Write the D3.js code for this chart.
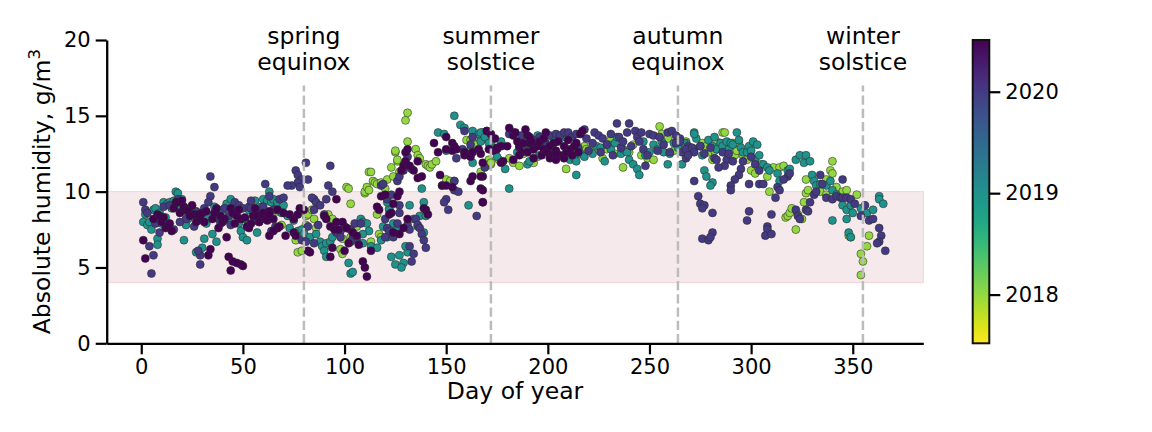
<!DOCTYPE html>
<html><head><meta charset="utf-8">
<script src="https://cdn.jsdelivr.net/npm/d3@7"></script>
<style>body{margin:0;background:#fff}svg{display:block}text{font-family:"DejaVu Sans",sans-serif;fill:#000}</style>
</head><body>
<svg id="chart" width="1152" height="432"></svg>
<script>
// ---- data: [day of year, absolute humidity g/m3] per year ----
const pts2018 = [[67,8.7],[69,7.8],[76,6.8],[77,6.0],[79,6.1],[80,7.3],[81,7.8],[81,8.4],[82,8.5],[84,8.8],[85,8.2],[86,7.6],[89,6.5],[90,6.3],[92,8.5],[94,8.2],[98,6.2],[99,5.9],[99,6.9],[101,7.6],[101,10.3],[102,10.2],[103,9.2],[103,7.0],[104,6.8],[106,7.7],[108,8.1],[110,9.9],[110,10.0],[111,10.3],[112,10.1],[112,11.3],[113,11.3],[113,6.7],[114,10.7],[115,10.6],[116,10.5],[116,8.5],[117,7.2],[118,7.0],[118,10.6],[120,10.2],[121,10.8],[122,8.9],[123,11.6],[124,11.0],[125,12.6],[125,12.7],[126,12.0],[126,12.1],[127,11.3],[130,14.7],[131,15.2],[131,13.3],[135,12.8],[136,12.4],[137,12.2],[140,11.8],[141,11.7],[142,11.6],[143,11.8],[145,12.0],[148,10.4],[150,10.8],[152,10.7],[154,10.7],[160,13.4],[162,13.4],[163,13.3],[165,13.1],[167,11.3],[167,13.4],[169,13.5],[170,11.7],[171,12.1],[172,11.8],[172,11.9],
[176,12.1],[181,12.2],[183,11.9],[186,11.7],[188,12.5],[191,12.6],[193,11.9],[195,12.3],[200,12.8],[205,12.3],[209,11.5],[212,12.6],[218,13.0],[219,12.8],[221,12.7],[224,12.8],[227,12.2],[229,12.8],[231,13.4],[233,12.5],[237,11.6],[240,12.6],[242,13.1],[246,12.4],[249,12.2],[252,12.1],[255,14.3],[256,13.8],[259,13.5],[262,12.7],[265,13.0],[268,13.3],
[276,13.2],[278,13.0],[279,12.6],[281,12.1],[282,12.7],[283,13.3],[285,13.2],[286,13.9],[287,13.9],[289,13.0],[290,12.2],[291,13.2],[292,12.4],[293,12.7],[294,13.2],[296,12.4],[298,12.1],[300,11.4],[302,11.2],[305,11.8],[308,11.0],[309,10.0],[311,11.6],[314,11.6],[316,11.7],[317,8.3],[318,8.4],[319,8.6],[320,8.9],[322,7.5],[323,8.5],[325,8.2],[326,9.3],[327,9.9],[327,10.8],[328,10.1],[334,10.0],[337,10.8],[337,9.8],[339,11.4],[340,12.0],[340,11.2],[342,10.3],[345,10.0],[347,10.1],[348,7.1],[349,7.0],[352,9.8],[354,5.9],[354,4.5],[355,5.4],[357,6.4],[358,7.1]];
const pts2019 = [[1,8.0],[2,8.5],[3,7.8],[4,8.0],[5,7.5],[6,8.8],[7,8.9],[8,6.9],[8,6.5],[9,8.6],[10,7.9],[11,9.3],[12,8.3],[13,9.2],[14,9.3],[15,8.9],[16,9.4],[17,10.0],[18,9.9],[19,9.0],[20,9.5],[21,6.8],[22,7.8],[23,8.2],[24,8.9],[25,8.5],[27,6.0],[28,8.1],[30,6.3],[31,6.9],[32,7.9],[33,8.4],[35,7.2],[36,9.0],[37,6.7],[38,8.5],[40,8.8],[42,9.2],[43,8.1],[44,9.5],[46,8.5],[47,8.9],[48,7.9],[49,7.4],[50,7.0],[51,8.2],[52,6.8],[53,8.8],[55,8.5],[56,9.4],[57,7.3],[58,8.0],[59,9.0],[60,9.5],[62,9.4],[63,10.0],[64,9.3],[67,9.1],
[65,9.5],[67,9.3],[70,9.1],[69,8.6],[72,8.4],[75,8.1],[73,7.6],[77,7.4],[79,7.5],[80,7.2],[83,7.0],[86,7.2],[88,6.7],[89,6.4],[91,6.6],[93,6.7],[94,7.0],[90,6.1],[91,5.7],[102,5.3],[103,4.6],[104,4.7],[108,8.2],[109,8.0],[111,7.9],[112,7.4],[109,7.2],[109,6.6],[113,6.4],[116,6.3],[118,6.8],[119,7.7],[121,7.0],[123,5.7],[125,5.2],[127,5.8],[129,5.3],[128,5.0],[131,6.0],[130,6.4],[125,7.5],[124,7.9],[122,8.8],[121,9.3],[138,10.2],[139,9.3],[132,9.1],[134,8.2],[136,7.7],[137,8.4],[140,8.4],[139,7.3],
[146,13.9],[149,13.8],[154,15.0],[157,14.4],[159,14.2],[163,14.0],[166,13.8],[168,13.9],[171,13.6],[172,13.2],[167,13.3],[162,12.8],[163,11.9],[161,9.1],[150,12.7],[154,12.9],
[167,13.9],[169,13.6],[171,13.2],[175,12.3],[177,13.3],[179,11.5],[181,10.2],[185,12.6],[190,11.8],[191,12.0],[195,13.7],[196,12.4],[198,12.9],[203,13.4],[206,13.5],[209,13.6],[211,12.1],[213,12.2],[214,12.0],[216,12.5],[214,11.1],[218,12.3],[222,12.5],[224,13.0],[226,12.9],[228,12.0],[230,13.1],[231,12.8],[233,13.2],[234,13.6],[236,12.5],[237,12.8],[239,12.6],[240,12.1],[242,11.8],[244,11.5],[245,11.1],[247,13.3],[248,12.4],[250,12.6],[252,13.1],[254,12.8],[256,13.3],[257,12.6],[259,11.8],[260,12.5],[262,13.2],[264,12.9],[266,11.8],[268,13.2],[270,12.9],[272,13.9],[273,13.5],
[272,13.8],[267,13.2],[270,12.8],[275,13.0],[276,12.4],[279,13.4],[281,13.0],[282,13.6],[283,12.8],[285,13.2],[286,13.0],[288,13.3],[289,12.8],[290,13.2],[291,13.1],[293,13.9],[294,13.4],[295,12.9],[296,12.6],[298,12.6],[299,13.0],[300,12.7],[301,13.3],[303,13.1],[302,12.1],[304,12.4],[306,11.8],[308,11.6],[309,11.4],[313,11.2],[314,10.7],[318,11.4],[319,11.5],[322,12.1],[324,12.4],[326,11.9],[327,12.4],[329,12.0],[330,11.1],[331,10.7],[332,10.4],[334,10.5],[337,10.4],[339,10.7],[340,10.1],[342,9.8],[345,9.1],[347,8.8],[349,9.1],[350,8.6],[354,8.9],[357,8.6],[360,8.8],[363,9.7],[363,9.5],[365,9.2],[340,8.1],[347,8.2],[348,7.3],[349,7.0],[277,11.4],[278,11.0],[281,10.6],[280,10.4]];
const pts2020 = [[1,9.3],[2,8.8],[3,8.6],[4,6.4],[6,5.8],[5,4.6],[7,7.9],[9,7.3],[11,9.0],[14,9.1],[18,9.5],[20,8.7],[22,8.2],[25,8.9],[27,8.7],[29,8.4],[31,8.9],[34,11.0],[36,10.3],[34,9.7],[37,8.6],[38,8.2],[41,8.9],[39,7.9],[43,8.4],[44,7.8],[46,9.3],[48,9.1],[50,8.9],[53,9.0],[54,9.4],[54,8.9],[56,8.1],[58,8.7],[60,9.0],[61,10.5],[63,9.7],[65,8.8],[33,9.3],[29,5.8],[29,5.2],[26,7.7],[19,8.0],[13,7.7],[16,7.5],[28,6.1],
[81,11.9],[76,11.4],[77,11.1],[79,10.8],[82,10.8],[77,10.6],[74,10.4],[72,10.4],[78,10.3],[93,11.7],[92,10.4],[94,10.0],[91,9.5],[85,9.5],[84,9.6],[86,9.3],[88,9.1],[90,8.5],[85,8.8],[87,7.8],[82,7.7],[79,6.8],[81,6.7],[68,9.5],[70,9.6],[66,7.7],[64,7.4],[67,7.6],[85,6.6],[96,7.3],[98,7.4],[98,7.0],[100,7.7],[103,7.5],[105,7.9],[104,6.9],[106,6.9],[103,6.7],[108,7.9],
[118,10.4],[119,10.5],[121,9.5],[123,9.8],[126,10.7],[127,11.0],[129,11.4],[131,12.3],[131,11.7],[133,11.5],[127,9.1],[127,8.6],[126,7.9],[120,8.2],[121,7.6],[122,7.4],[120,7.0],[124,7.0],[131,7.8],[132,7.5],[135,8.2],[136,7.8],[137,7.6],[138,7.2],[139,6.8],[140,6.3],[132,6.4],[134,5.9],[133,5.4],
[159,14.0],[163,13.6],[162,13.1],[160,12.5],[158,12.8],[155,12.2],[169,11.6],[165,8.4],[168,9.3],[154,10.1],[156,10.0],[154,10.7],[150,9.5],[149,9.3],[151,8.8],
[181,13.8],[183,13.9],[186,12.9],[187,13.7],[190,13.0],[193,13.4],[196,13.6],[199,13.2],[201,13.7],[204,13.8],[206,13.7],[208,13.9],[210,13.9],[212,13.6],[214,13.8],[215,12.9],[218,14.1],[219,13.5],[220,12.7],[222,13.2],[223,13.9],[225,13.7],[226,12.6],[227,13.5],[229,13.1],[231,13.8],[232,12.4],[234,14.5],[235,13.6],[236,12.9],[237,13.3],[239,13.9],[240,14.5],[241,13.0],[243,14.0],[244,13.6],[245,13.3],[246,13.9],[247,12.8],[248,11.7],[249,12.4],[250,13.8],[252,13.7],[254,12.7],[255,13.6],[257,13.1],[259,13.9],[260,12.6],[261,14.0],[263,13.7],[263,13.2],[265,13.5],[266,12.6],[268,12.2],[269,13.0],[272,12.8],[275,13.0],
[265,13.3],[268,12.8],[271,12.9],[272,12.6],[269,12.4],[277,12.5],[280,12.9],[282,12.2],[286,12.6],[288,12.1],[289,12.5],[291,12.0],[287,11.7],[283,12.1],[284,11.6],[295,11.5],[294,11.1],[292,10.8],[290,10.4],[290,10.1],[296,12.0],[299,10.5],[300,12.3],[302,11.8],[304,10.5],[306,10.5],[304,11.4],[313,10.3],[314,10.1],[312,9.6],[318,11.0],[319,11.2],[316,10.8],[299,8.7],[298,8.1],[310,8.5],[308,7.7],[308,7.5],[307,7.1],[310,7.2],[322,8.8],[323,8.4],[324,8.2],[327,8.8],[328,8.7],[329,9.3],[331,9.8],[332,10.0],[334,11.1],[335,10.5],[337,9.6],[340,9.5],[342,9.7],[344,9.6],[345,9.6],[347,9.6],[349,9.5],[351,9.2],[354,8.4],[356,9.1],[358,8.1],[360,8.2],[363,7.6],[364,7.1],[363,6.7],[362,6.6],[366,6.1],[272,10.7],[274,9.7],[275,9.2],[277,9.1],[281,8.6],[276,8.9],[281,7.3],[276,6.9],[279,6.8],[280,7.0],[345,10.8]];
const pts2021 = [[1,6.8],[2,5.6],[6,8.2],[8,8.5],[9,8.4],[10,8.0],[11,8.3],[12,7.6],[13,7.7],[14,7.9],[15,7.4],[16,8.9],[17,9.3],[18,9.3],[19,8.6],[20,9.4],[21,9.0],[22,8.8],[23,8.7],[24,8.4],[25,9.1],[26,8.5],[27,8.0],[28,8.5],[29,8.2],[30,8.6],[31,8.0],[32,8.7],[35,8.2],[36,8.6],[37,8.9],[38,7.6],[39,8.4],[40,8.0],[41,8.2],[42,7.0],[44,8.9],[45,8.6],[46,7.9],[47,8.4],[48,8.8],[49,8.2],[51,8.3],[34,6.2],[33,5.8],[43,5.7],[45,5.4],[47,5.3],[49,5.2],[50,5.1],[44,4.8],[52,7.7],[53,7.6],[54,7.9],[55,8.4],[56,8.9],[57,8.4],[58,8.0],[59,8.5],[60,8.6],[61,8.2],[62,8.1],[63,8.7],[65,8.2],[67,7.6],
[63,8.5],[67,8.8],[70,8.6],[73,8.5],[75,8.2],[77,8.5],[78,8.9],[80,8.8],[65,7.4],[63,7.1],[68,7.7],[71,7.1],[75,7.3],[76,7.1],[82,6.1],[83,6.0],[96,9.5],[90,8.4],[91,8.2],[93,7.7],[95,7.5],[96,8.0],[99,8.0],[97,7.5],[101,7.6],[104,7.3],[106,7.1],[107,6.5],[102,6.6],[94,6.3],[93,5.7],[100,6.1],[109,5.4],[110,5.0],[111,4.4],[113,6.1],
[116,9.0],[117,8.8],[118,9.7],[120,9.8],[122,8.5],[123,8.6],[124,9.2],[126,9.7],[127,10.0],[128,11.4],[129,11.7],[130,12.6],[131,12.8],[130,12.0],[132,11.7],[134,11.4],[136,12.0],[136,10.9],[138,11.0],[139,8.9],[140,8.8],[141,8.5],[127,7.2],[129,7.6],[131,8.2],[124,7.3],
[144,13.2],[146,12.6],[150,13.6],[153,13.2],[154,13.0],[155,12.8],[159,12.6],[159,12.4],[162,12.3],[163,12.6],[166,12.8],[170,14.0],[171,12.8],[173,12.7],[175,12.9],[150,12.8],[153,12.7],[147,11.1],[148,10.4],[153,10.3],[150,10.4],[162,10.7],[163,11.0],[167,10.2],[168,11.0],
[170,14.0],[172,13.8],[174,13.5],[175,12.8],[177,13.0],[178,12.0],[177,11.9],[180,13.0],[181,14.2],[183,13.7],[184,13.9],[185,13.3],[186,13.0],[187,12.6],[188,13.2],[189,14.1],[190,13.7],[191,13.2],[192,13.3],[193,12.8],[195,13.0],[196,13.3],[197,12.4],[198,12.8],[199,13.9],[200,12.6],[201,13.0],[202,12.4],[203,13.2],[204,12.7],[205,13.3],[206,12.4],[208,12.2],[209,12.6],[210,13.4],[211,12.8],[212,12.4],[213,13.0],[214,13.2],[215,12.6],[216,13.8],[217,14.0],[208,13.0],[167,12.5],[168,11.9],[168,10.1],[168,9.3],[167,11.0],[183,12.1],[186,12.4],[190,12.6],[193,12.2],[201,12.2],[204,12.1],[191,13.6],[198,13.5],[204,12.5]];
const years = [2018, 2019, 2020, 2021];
const seriesList = [pts2018, pts2019, pts2020, pts2021];
const xTicks = [0, 50, 100, 150, 200, 250, 300, 350];
const yTicks = [0, 5, 10, 15, 20];
const cbTicks = [2018, 2019, 2020];
const comfortBand = [4, 10];
const events = [
  {day: 80, lines: ["spring", "equinox"]},
  {day: 172, lines: ["summer", "solstice"]},
  {day: 264, lines: ["autumn", "equinox"]},
  {day: 355, lines: ["winter", "solstice"]}
];

// ---- drawing ----
const svg = d3.select("#chart");
const x = d3.scaleLinear().domain([-17, 384.7]).range([106.7, 923.3]);
const y = d3.scaleLinear().domain([0, 20]).range([343.3, 40]);
const cDomain = [2017.52, 2020.51];
const color = d3.scaleSequential(t => d3.interpolateViridis(1 - t)).domain(cDomain).clamp(true);

// band
svg.append("rect")
  .attr("x", x(-17)).attr("width", x(384.7) - x(-17))
  .attr("y", y(comfortBand[1])).attr("height", y(comfortBand[0]) - y(comfortBand[1]))
  .attr("fill", "#f6e9eb").attr("stroke", "#efd3d8").attr("stroke-width", 1);

// points
const data = [];
seriesList.forEach((arr, i) => arr.forEach(d => data.push({day: d[0], v: d[1], year: years[i]})));
svg.append("g").selectAll("circle").data(data).join("circle")
  .attr("cx", d => x(d.day)).attr("cy", d => y(d.v)).attr("r", 4.0)
  .attr("fill", d => color(d.year)).attr("stroke", "#2a2a2a").attr("stroke-width", 0.55);

// event lines + labels
const ev = svg.append("g");
events.forEach(e => {
  ev.append("line")
    .attr("x1", x(e.day)).attr("x2", x(e.day))
    .attr("y1", y(0)).attr("y2", y(17))
    .attr("stroke", "#bcbcbc").attr("stroke-width", 2.5).attr("stroke-dasharray", "9.25,4");
  e.lines.forEach((t, j) => {
    ev.append("text").attr("x", x(e.day)).attr("y", 43.5 + j * 26.5)
      .attr("text-anchor", "middle").style("font-size", "23.5px").text(t);
  });
});

// axes
const yAxis = svg.append("g").attr("transform", `translate(${x(-17)},0)`)
  .call(d3.axisLeft(y).tickValues(yTicks).tickSize(11).tickSizeOuter(0).tickPadding(5));
const xAxis = svg.append("g").attr("transform", `translate(0,${y(0)})`)
  .call(d3.axisBottom(x).tickValues(xTicks).tickSize(11).tickSizeOuter(0).tickPadding(5));
[xAxis, yAxis].forEach(g => {
  g.attr("font-family", null).attr("font-size", null);
  g.select(".domain").attr("stroke", "#000").attr("stroke-width", 2.3);
  g.selectAll(".tick line").attr("stroke", "#000").attr("stroke-width", 2.2);
  g.selectAll(".tick text").style("font-size", "21px").attr("fill", "#000");
});

svg.append("text").attr("x", (x(-17) + x(384.7)) / 2).attr("y", 399.3)
  .attr("text-anchor", "middle").style("font-size", "23.5px").text("Day of year");
const yl = svg.append("text").attr("transform", `translate(49.5,${(y(0) + y(20)) / 2}) rotate(-90)`)
  .attr("text-anchor", "middle").style("font-size", "23.5px");
yl.append("tspan").text("Absolute humidity, g/m");
yl.append("tspan").attr("dy", "-0.55em").style("font-size", "16.5px").text("3");

// colorbar
const cbX = 972.7, cbW = 16.6;
const cy = d3.scaleLinear().domain(cDomain).range([343.3, 40]);
const defs = svg.append("defs");
const grad = defs.append("linearGradient").attr("id", "cbgrad")
  .attr("x1", 0).attr("y1", 1).attr("x2", 0).attr("y2", 0);
d3.range(0, 1.0001, 0.05).forEach(t => {
  grad.append("stop").attr("offset", t).attr("stop-color", d3.interpolateViridis(1 - t));
});
svg.append("rect").attr("x", cbX).attr("y", cy(cDomain[1])).attr("width", cbW)
  .attr("height", cy(cDomain[0]) - cy(cDomain[1]))
  .attr("fill", "url(#cbgrad)").attr("stroke", "#111").attr("stroke-width", 2);
const cbAxis = svg.append("g").attr("transform", `translate(${cbX + cbW},0)`)
  .call(d3.axisRight(cy).tickValues(cbTicks).tickFormat(d3.format("d")).tickSize(11).tickSizeOuter(0).tickPadding(5));
cbAxis.attr("font-family", null).attr("font-size", null);
cbAxis.select(".domain").remove();
cbAxis.selectAll(".tick line").attr("stroke", "#000").attr("stroke-width", 2.2);
cbAxis.selectAll(".tick text").style("font-size", "21px").attr("fill", "#000");
</script>
</body></html>
